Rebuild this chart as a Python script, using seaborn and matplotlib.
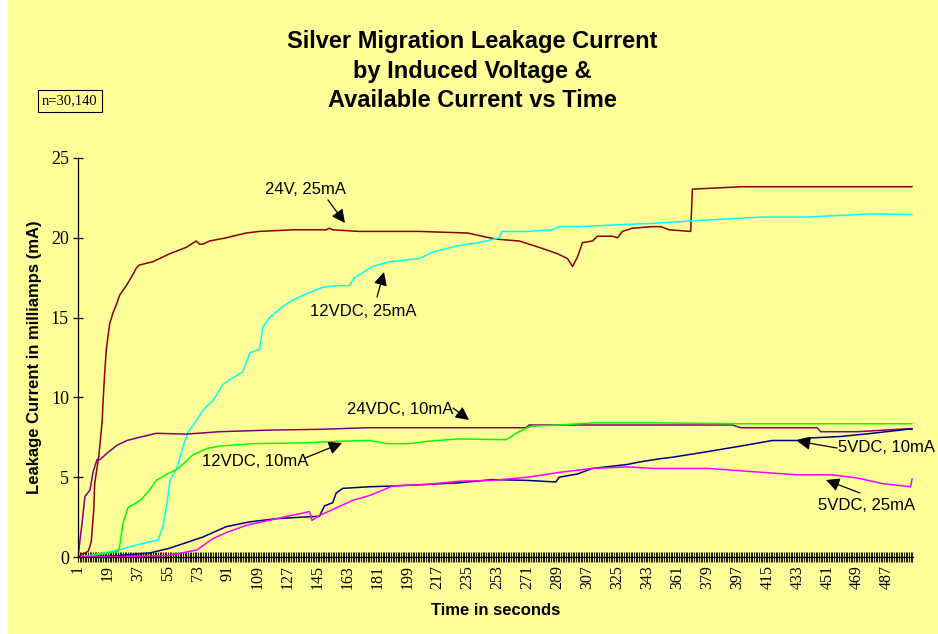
import numpy as np
import pandas as pd
import matplotlib
matplotlib.use("Agg")
import matplotlib.pyplot as plt
import seaborn as sns
from matplotlib.patches import Rectangle
from matplotlib.ticker import FixedLocator

# ---------------- data ----------------
series_names = ["24V, 25mA", "12VDC, 25mA", "24VDC, 10mA",
                "12VDC, 10mA", "5VDC, 10mA", "5VDC, 25mA"]
series_colors = ["#8B0000", "#00FFFF", "#800080", "#00FF00", "#000080", "#FF00FF"]

t_24v25 = [1, 4, 7, 8, 9, 10.5, 11, 13.5, 15.5, 16, 17, 18, 20, 22, 24, 26, 30, 34, 36, 38,
           46, 56, 66, 72, 74, 76, 80, 90, 102, 110, 130, 150, 152, 154, 170, 206, 235, 248,
           254, 266, 278, 289, 295, 298, 301, 304, 310, 313, 322, 325, 328, 334, 346, 351,
           356, 369, 370, 380, 400, 420, 502]
y_24v25 = [0, 0.2, 0.35, 0.6, 1.0, 3.0, 4.6, 6.3, 8.5, 9.6, 11.5, 13.0, 14.6, 15.3, 15.8,
           16.4, 17.0, 17.7, 18.1, 18.3, 18.5, 19.0, 19.4, 19.8, 19.6, 19.6, 19.8, 20.0, 20.3,
           20.4, 20.5, 20.5, 20.6, 20.5, 20.4, 20.4, 20.3, 20.0, 19.9, 19.8, 19.4, 19.0, 18.7,
           18.2, 18.8, 19.7, 19.8, 20.1, 20.1, 20.0, 20.4, 20.6, 20.7, 20.7, 20.5, 20.4, 23.05,
           23.1, 23.2, 23.2, 23.2]

t_12v25 = [1, 8, 16, 26, 36, 44, 49, 52, 54.5, 56.3, 60.5, 64, 67, 72.5, 76, 82, 88, 92, 100,
           102.5, 104.3, 110, 112, 116, 124, 130, 138.5, 148, 156.5, 164, 167, 178, 188, 206,
           214, 229, 242, 254, 255.5, 271, 286, 290, 302, 322, 346, 368, 385, 412, 439, 478, 502]
y_12v25 = [0, 0.1, 0.25, 0.45, 0.75, 0.95, 1.05, 1.9, 3.4, 4.8, 5.6, 6.9, 7.8, 8.6, 9.2, 9.8,
           10.8, 11.1, 11.6, 12.3, 12.8, 13.0, 14.4, 15.0, 15.7, 16.1, 16.5, 16.9, 17.0, 17.0,
           17.5, 18.2, 18.5, 18.7, 19.1, 19.5, 19.7, 20.0, 20.4, 20.4, 20.5, 20.7, 20.7, 20.8,
           20.9, 21.05, 21.15, 21.3, 21.3, 21.5, 21.45]

t_24v10 = [1, 3.4, 5.2, 8.2, 10, 12.4, 14.2, 18.4, 24.4, 30.4, 38, 48, 66, 86, 116, 146, 176,
           270, 272, 394, 399, 445, 447, 469, 502]
y_24v10 = [0, 2.1, 3.8, 4.2, 5.3, 6.1, 6.1, 6.5, 7.0, 7.3, 7.5, 7.75, 7.7, 7.85, 7.95, 8.0,
           8.1, 8.1, 8.27, 8.27, 8.1, 8.1, 7.85, 7.85, 8.05]

t_12v10 = [1, 10, 16, 25, 26, 28, 31, 36, 39, 44, 48, 54.5, 60.5, 65, 70, 78.5, 86, 106, 136,
           157, 176, 187, 200, 211, 230, 258, 265, 271, 274, 290, 310, 350, 400, 450, 502]
y_12v10 = [0, 0.1, 0.2, 0.35, 0.65, 2.1, 3.1, 3.4, 3.6, 4.2, 4.8, 5.2, 5.5, 5.9, 6.4, 6.8,
           6.95, 7.1, 7.15, 7.25, 7.3, 7.1, 7.1, 7.25, 7.4, 7.35, 7.8, 8.1, 8.2, 8.27, 8.4, 8.4,
           8.35, 8.35, 8.35]

t_5v10 = [1, 20, 44, 56, 76, 90, 104, 120, 136, 146, 149, 154, 156, 160, 176, 190, 211, 230,
          250, 271, 288, 290, 301, 310, 331, 338, 350, 358, 379, 399, 418, 433, 439, 459, 478,
          499, 502]
y_5v10 = [0, 0.05, 0.25, 0.55, 1.25, 1.9, 2.2, 2.4, 2.5, 2.55, 3.2, 3.4, 4.0, 4.3, 4.4, 4.45,
          4.55, 4.65, 4.85, 4.8, 4.7, 5.0, 5.2, 5.55, 5.8, 5.95, 6.15, 6.25, 6.6, 6.95, 7.3, 7.3,
          7.45, 7.55, 7.75, 8.0, 8.0]

t_5v25 = [1, 40, 56, 72.5, 82, 90.5, 102.5, 116, 126.5, 136, 140, 141.5, 146, 156.6, 166, 176,
          182, 190, 211, 230, 250, 271, 290, 310, 331, 346, 379, 399, 433, 454, 469, 484, 501, 502]
y_5v25 = [0, 0.05, 0.1, 0.45, 1.15, 1.55, 2.0, 2.3, 2.55, 2.75, 2.85, 2.3, 2.6, 3.1, 3.55,
          3.85, 4.1, 4.45, 4.55, 4.75, 4.8, 5.0, 5.3, 5.55, 5.65, 5.55, 5.55, 5.4, 5.15, 5.15,
          4.95, 4.6, 4.4, 4.9]

x_tick_values = list(range(1, 488, 18))
x_tick_labels = [str(v) for v in x_tick_values]
y_tick_values = [0, 5, 10, 15, 20, 25]

# ---------------- build long table ----------------
ts = [t_24v25, t_12v25, t_24v10, t_12v10, t_5v10, t_5v25]
ys = [y_24v25, y_12v25, y_24v10, y_12v10, y_5v10, y_5v25]
frames = []
for name, t, y in zip(series_names, ts, ys):
    frames.append(pd.DataFrame({"Time": t, "Current": y, "Series": name}))
df = pd.concat(frames, ignore_index=True)

# ---------------- style ----------------
sns.set_theme(style="white")
plt.rcParams["font.family"] = ["Liberation Sans", "DejaVu Sans"]
YELLOW = "#FFFF99"

fig = plt.figure(figsize=(9.38, 6.34), dpi=100, facecolor="white")
fig.patches.append(Rectangle((8 / 938, 0), 1 - 8 / 938, 1, transform=fig.transFigure,
                             facecolor=YELLOW, edgecolor="none", zorder=-10))
ax = fig.add_axes([78 / 938, 77 / 634, 835 / 938, 399 / 634])
ax.set_facecolor(YELLOW)

sns.lineplot(data=df, x="Time", y="Current", hue="Series", hue_order=series_names,
             palette=series_colors, estimator=None, sort=False, linewidth=1.1,
             legend=False, ax=ax)

ax.set_xlim(1, 502.5)
ax.set_ylim(0, 25)

for s in ["top", "right"]:
    ax.spines[s].set_visible(False)
ax.spines["left"].set_color("black")
ax.spines["left"].set_linewidth(0.9)
ax.spines["bottom"].set_color("black")
ax.spines["bottom"].set_linewidth(0.9)

ax.xaxis.set_major_locator(FixedLocator(x_tick_values))
ax.xaxis.set_minor_locator(FixedLocator(np.arange(1, 503)))
ax.set_xticks(x_tick_values)
ax.set_xticklabels(x_tick_labels, rotation=90, fontfamily="Liberation Serif", fontsize=11.5)
ax.tick_params(axis="x", which="both", direction="inout", length=7.5, width=0.8,
               color="#222200", bottom=True, pad=2)
ax.tick_params(axis="x", which="major", labelcolor="black")

ax.set_yticks(y_tick_values)
ax.set_yticklabels([str(v) for v in y_tick_values], fontfamily="Liberation Serif", fontsize=13)
ax.tick_params(axis="y", which="major", direction="inout", length=7, width=0.9,
               color="black", left=True, pad=3, labelcolor="black")

ax.set_xlabel("Time in seconds", fontsize=12, fontweight="bold", color="black", va="center")
ax.xaxis.set_label_coords(0.5, -0.1353)
ax.set_ylabel("Leakage Current in milliamps (mA)", fontsize=12, fontweight="bold",
              color="black", va="center", ha="center")
ax.yaxis.set_label_coords(-0.0515, 0.5)

# ---------------- title ----------------
title_lines = ["Silver Migration Leakage Current", "by Induced Voltage &",
               "Available Current vs Time"]
for line, yb in zip(title_lines, [48, 78, 107]):
    fig.text(472 / 938, 1 - yb / 634, line, ha="center", va="baseline", fontsize=17,
             fontweight="bold", color="black")

fig.text(70 / 938, 1 - 101 / 634, "n=30,140", ha="center", va="center", fontsize=10.5,
         fontfamily="Liberation Serif", color="black",
         bbox=dict(boxstyle="square,pad=0.3", facecolor=YELLOW, edgecolor="black", linewidth=0.8))

# ---------------- annotations ----------------
def px2d(px, py):
    return ((px - 78) / 1.665 + 1, (557 - py) / 15.96)

ann = [
    ("24V, 25mA", (305, 189), (328, 200), (345, 223)),
    ("12VDC, 25mA", (363, 311), (377, 297), (384, 272)),
    ("24VDC, 10mA", (400, 410), (453, 408), (469, 420)),
    ("12VDC, 10mA", (255, 461), (305, 458), (342, 443)),
    ("5VDC, 10mA", (886, 448), (837, 448), (797, 441)),
    ("5VDC, 25mA", (867, 506), (860, 493), (826, 480)),
]
for label, tpos, tail, head in ann:
    ax.text(*px2d(*tpos), label, ha="center", va="center", fontsize=12, color="black",
            clip_on=False)
    ax.annotate("", xy=px2d(*head), xytext=px2d(*tail),
                arrowprops=dict(arrowstyle="-|>", color="black", lw=0.9,
                                mutation_scale=20, shrinkA=0, shrinkB=0),
                annotation_clip=False)

fig.savefig("out.png", dpi=100, facecolor=fig.get_facecolor())
